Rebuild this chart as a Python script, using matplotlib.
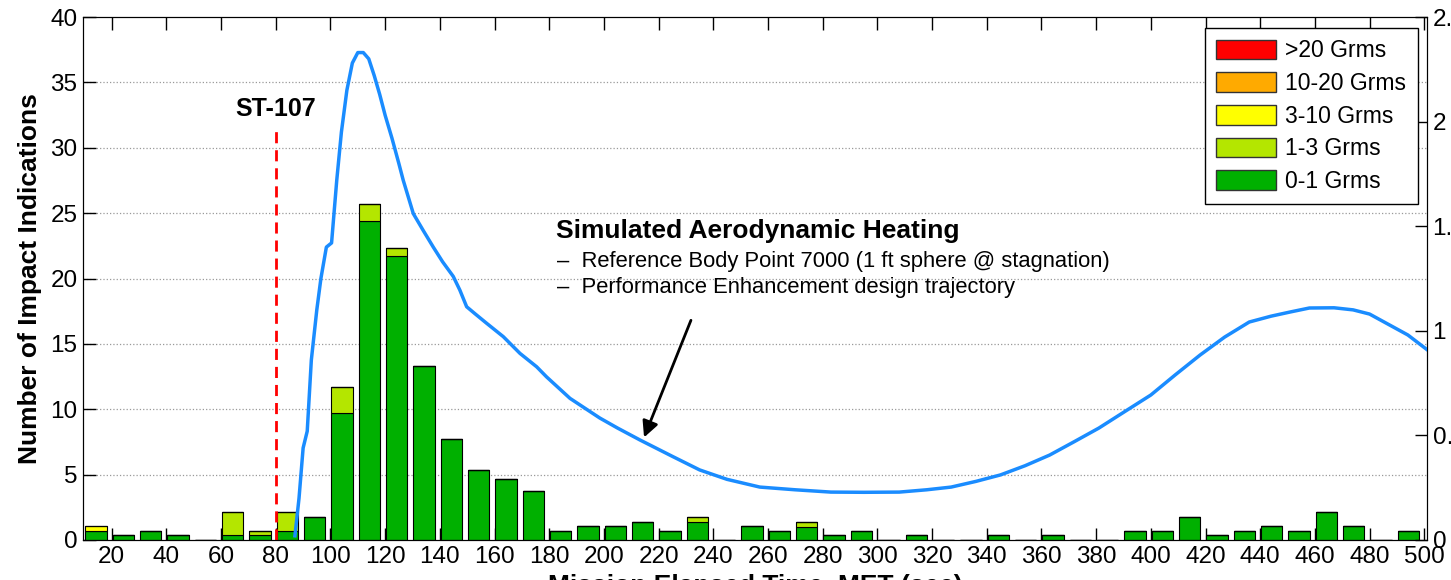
import matplotlib.pyplot as plt
from matplotlib.patches import Patch
import numpy as np

plt.rcParams['font.family'] = ['Liberation Sans', 'DejaVu Sans']

# 10-second bins, left edge of each bin (sec)
bin_start = np.arange(10, 500, 10)

# impact indications per bin, split by vibration level
grms_0_1 = [0.69, 0.35, 0.69, 0.35, 0, 0.35, 0.35, 0.66, 1.74, 9.69,
            24.42, 21.72, 13.33, 7.70, 5.35, 4.64, 3.72, 0.66, 1.05, 1.05,
            1.40, 0.66, 1.35, 0, 1.05, 0.66, 1.00, 0.35, 0.66, 0,
            0.35, 0, 0, 0.35, 0, 0.35, 0, 0, 0.66, 0.66,
            1.74, 0.35, 0.66, 1.05, 0.66, 2.12, 1.05, 0, 0.66]
grms_1_3 = [0, 0, 0, 0, 0, 1.77, 0.31, 1.46, 0, 1.99,
            1.30, 0.59, 0, 0, 0, 0, 0, 0, 0, 0,
            0, 0, 0.39, 0, 0, 0, 0.40, 0, 0, 0,
            0, 0, 0, 0, 0, 0, 0, 0, 0, 0,
            0, 0, 0, 0, 0, 0, 0, 0, 0]
grms_3_10 = [0.36] + [0] * 48
grms_10_20 = [0] * 49
grms_20_up = [0] * 49

levels = [grms_0_1, grms_1_3, grms_3_10, grms_10_20, grms_20_up]
level_names = ['0-1 Grms', '1-3 Grms', '3-10 Grms', '10-20 Grms', '>20 Grms']
level_colors = ['#00b000', '#b4e600', '#ffff00', '#ffaa00', '#ff0000']

# simulated aerodynamic heating, body point 7000
heat_t = [87, 88.5, 90, 91.5, 93, 95, 96.5, 98.5, 100.4, 102.3, 104, 106, 108,
          110, 112, 114, 116, 118, 120, 122.5, 125, 126.6, 130.3, 133.9, 137.6,
          141, 144.9, 147.3, 149.8, 153, 157.1, 163.2, 169.3, 175.4, 179, 187.6,
          198.5, 205, 213.2, 225, 235, 245, 257, 270, 283, 295, 308, 318, 327,
          336, 345, 354, 363, 372, 381, 390, 400, 409, 418, 427, 436, 444, 451,
          458, 467, 474, 480, 487, 494, 501]
heat_q = [0.02, 0.2, 0.44, 0.52, 0.86, 1.1, 1.25, 1.40, 1.42, 1.72, 1.95, 2.15,
          2.28, 2.33, 2.33, 2.30, 2.22, 2.13, 2.03, 1.92, 1.80, 1.72, 1.56, 1.48,
          1.40, 1.33, 1.26, 1.195, 1.115, 1.08, 1.036, 0.972, 0.892, 0.828, 0.78,
          0.677, 0.583, 0.535, 0.478, 0.40, 0.335, 0.29, 0.253, 0.24, 0.229,
          0.228, 0.229, 0.24, 0.253, 0.28, 0.311, 0.355, 0.406, 0.47, 0.535,
          0.61, 0.693, 0.79, 0.884, 0.97, 1.042, 1.07, 1.09, 1.109, 1.11, 1.10,
          1.08, 1.03, 0.98, 0.91]

fig = plt.figure(figsize=(14.51, 5.80), dpi=100)
ax = fig.add_axes([83 / 1451, 40 / 580, 1344 / 1451, 523 / 580])

bottom = np.zeros(len(bin_start))
for vals, col in zip(levels, level_colors):
    vals = np.array(vals, dtype=float)
    ax.bar(bin_start + 0.3, vals, width=7.8, bottom=bottom, align='edge',
           color=col, edgecolor='black', linewidth=0.8, zorder=2)
    bottom += vals

ax.set_xlim(9.5, 501)
ax.set_ylim(0, 40)
ax.set_xticks(np.arange(20, 501, 20))
ax.set_yticks(np.arange(0, 41, 5))
ax.tick_params(direction='in', top=True, right=True, length=9, width=1,
               labelsize=17.5, pad=4)
for y in range(5, 40, 5):
    ax.axhline(y, color='#999999', linestyle=':', linewidth=0.9, zorder=1)
ax.set_ylabel('Number of Impact Indications', fontsize=19, fontweight='bold',
              labelpad=6)
# axis title sits at the bottom edge of the figure
fig.text(755 / 1451, 1 - 574 / 580, 'Mission Elapsed Time, MET (sec)',
         fontsize=19, fontweight='bold', ha='center', va='top')

# ST-107 marker
ax.plot([80, 80], [0, 31.5], color='red', linestyle=(0, (4, 2.5)),
        linewidth=2, zorder=3)
ax.text(80, 33.0, 'ST-107', fontsize=18, fontweight='bold',
        ha='center', va='center')

# heating on the right-hand axis
ax2 = ax.twinx()
ax2.set_ylim(0, 2.5)
ax2.set_yticks(np.arange(0, 2.51, 0.5))
ax2.set_yticklabels(['0', '0.5', '1', '1.5', '2', '2.5'])
ax2.tick_params(direction='in', length=9, width=1, labelsize=17.5, pad=4)
ax2.plot(heat_t, heat_q, color='#1a8cff', linewidth=2.5, zorder=4)

ax.text(182.4, 23.6, 'Simulated Aerodynamic Heating', fontsize=19,
        fontweight='bold', ha='left', va='center')
ax.text(182.8, 21.3, '\u2013  Reference Body Point 7000 (1 ft sphere @ stagnation)',
        fontsize=15.8, ha='left', va='center')
ax.text(182.8, 19.3, '\u2013  Performance Enhancement design trajectory',
        fontsize=15.8, ha='left', va='center')
ax.annotate('', xy=(214.3, 7.65), xytext=(232.2, 17.0),
            arrowprops=dict(arrowstyle='-|>', color='black', lw=2,
                            mutation_scale=24))

handles = [Patch(facecolor=c, edgecolor='#333333', label=n)
           for n, c in zip(level_names[::-1], level_colors[::-1])]
leg = ax2.legend(handles=handles, loc='upper right',
                 bbox_to_anchor=(0.993, 0.979), borderaxespad=0,
                 fontsize=16.5, frameon=True, fancybox=False,
                 edgecolor='black', framealpha=1,
                 handlelength=2.6, handleheight=0.95, labelspacing=0.42,
                 handletextpad=0.4, borderpad=0.5)
leg.get_frame().set_linewidth(1)

fig.savefig('out.png', dpi=100)
